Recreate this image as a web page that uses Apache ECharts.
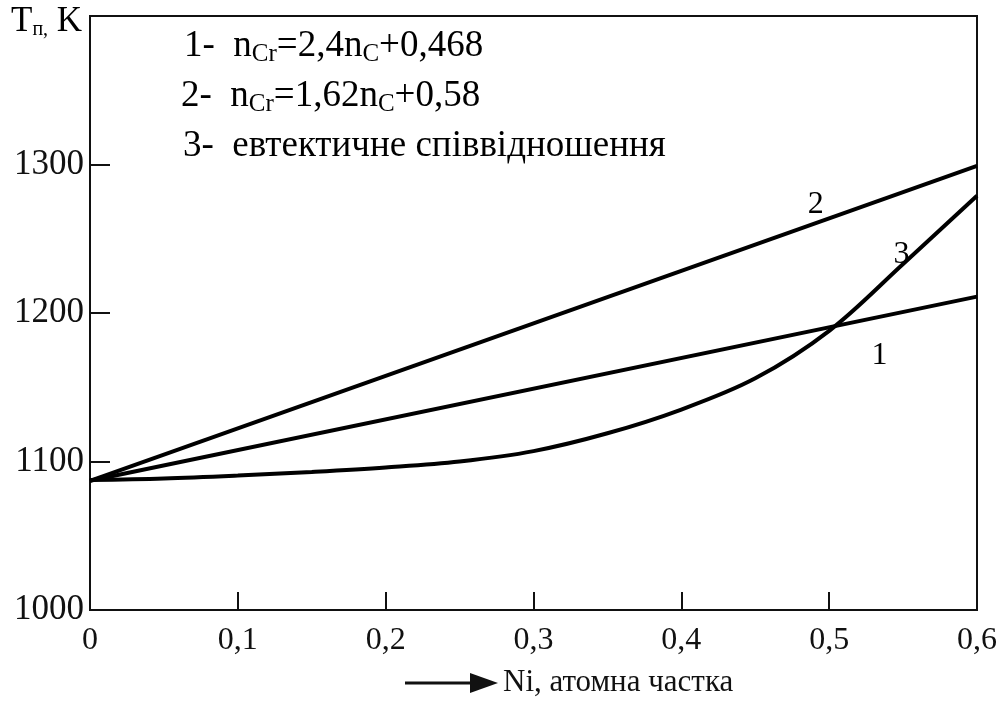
<!DOCTYPE html>
<html>
<head>
<meta charset="utf-8">
<script src="https://cdn.jsdelivr.net/npm/echarts@6/dist/echarts.min.js"></script>
<style>
html,body{margin:0;padding:0;background:#fff;}
#chart{width:1000px;height:705px;}
</style>
</head>
<body>
<div id="chart"></div>
<script>
// ---- data ----
const xTicks = [0, 0.1, 0.2, 0.3, 0.4, 0.5, 0.6];
const yTicks = [1000, 1100, 1200, 1300];
const line1X = [0, 0.6];
const line1Y = [1087, 1211];
const line2X = [0, 0.6];
const line2Y = [1087, 1299];
const curve3X = [0, 0.05, 0.1, 0.15, 0.2, 0.25, 0.3, 0.35, 0.4, 0.45, 0.5, 0.55, 0.6];
const curve3Y = [1087.5, 1088.5, 1090.5, 1093, 1096, 1100, 1107, 1119, 1135, 1156, 1188, 1233, 1279];
const curveLabels = ['1', '2', '3'];
const curveLabelX = [0.534, 0.491, 0.549];
const curveLabelY = [1171, 1273, 1239];

const FONT = '"Liberation Serif", "DejaVu Serif", serif';
const INK = '#111';

function pairs(xs, ys) { return xs.map((x, i) => [x, ys[i]]); }

const chart = echarts.init(document.getElementById('chart'), null, { renderer: 'canvas' });

const rich = {
  n: { fontFamily: FONT, fontSize: 37, color: INK, lineHeight: 50, verticalAlign: 'middle' },
  s: { fontFamily: FONT, fontSize: 25, color: INK, padding: [16, 0, 0, 0], verticalAlign: 'middle' }
};

chart.setOption({
  backgroundColor: '#fff',
  animation: false,
  grid: { left: 90, top: 16, right: 20, bottom: 95, show: true, borderColor: INK, borderWidth: 2, backgroundColor: 'transparent' },
  xAxis: {
    type: 'value', min: 0, max: 0.6, interval: 0.1,
    axisLine: { show: true, onZero: false, lineStyle: { color: INK, width: 2 } },
    axisTick: { show: true, inside: true, length: 18, lineStyle: { color: INK, width: 2 } },
    splitLine: { show: false },
    axisLabel: {
      fontFamily: FONT, fontSize: 32, color: INK, margin: 15,
      formatter: v => (v === 0 ? '0' : v.toFixed(1).replace('.', ','))
    }
  },
  yAxis: {
    type: 'value', min: 1000, max: 1400, interval: 100,
    axisLine: { show: true, lineStyle: { color: INK, width: 2 } },
    axisTick: { show: true, inside: true, length: 20, lineStyle: { color: INK, width: 2 } },
    splitLine: { show: false },
    axisLabel: {
      fontFamily: FONT, fontSize: 35, color: INK, margin: 6,
      formatter: v => (yTicks.indexOf(v) >= 0 ? String(v) : '')
    }
  },
  series: [
    { type: 'line', name: '1', data: pairs(line1X, line1Y), symbol: 'none', lineStyle: { color: '#000', width: 4 } },
    { type: 'line', name: '2', data: pairs(line2X, line2Y), symbol: 'none', lineStyle: { color: '#000', width: 4 } },
    { type: 'line', name: '3', data: pairs(curve3X, curve3Y), symbol: 'none', smooth: 0.35, lineStyle: { color: '#000', width: 4 } },
    { type: 'scatter', name: 'labels', silent: true, symbolSize: 1,
      itemStyle: { color: 'rgba(0,0,0,0)', opacity: 1 },
      data: curveLabelX.map((x, i) => ({ value: [x, curveLabelY[i]], name: curveLabels[i] })),
      label: { show: true, position: 'inside', formatter: p => p.name, fontFamily: FONT, fontSize: 32, color: '#000', opacity: 1 } }
  ],
  graphic: [
    { type: 'text', left: 11, top: 4, style: {
        text: '{t|T}{s|п,}{t| K}',
        rich: {
          t: { fontFamily: FONT, fontSize: 35, color: INK, verticalAlign: 'middle', lineHeight: 42 },
          s: { fontFamily: FONT, fontSize: 20, color: INK, padding: [16, 0, 0, 0], verticalAlign: 'middle' }
        }
    } },
    { type: 'text', left: 184, top: 28, style: { text: '{n|1-  n}{s|Cr}{n|=2,4n}{s|C}{n|+0,468}', rich: rich } },
    { type: 'text', left: 181, top: 78, style: { text: '{n|2-  n}{s|Cr}{n|=1,62n}{s|C}{n|+0,58}', rich: rich } },
    { type: 'text', left: 183, top: 128, style: { text: '{n|3-  евтектичне співвідношення}', rich: rich } },
    { type: 'line', shape: { x1: 405, y1: 683, x2: 478, y2: 683 }, style: { stroke: INK, lineWidth: 3 } },
    { type: 'polygon', shape: { points: [[470, 673], [498, 683], [470, 693]] }, style: { fill: INK } },
    { type: 'text', left: 503, top: 667, style: { text: 'Ni, атомна частка', fontFamily: FONT, fontSize: 31, fill: INK } }
  ]
});
</script>
</body>
</html>
